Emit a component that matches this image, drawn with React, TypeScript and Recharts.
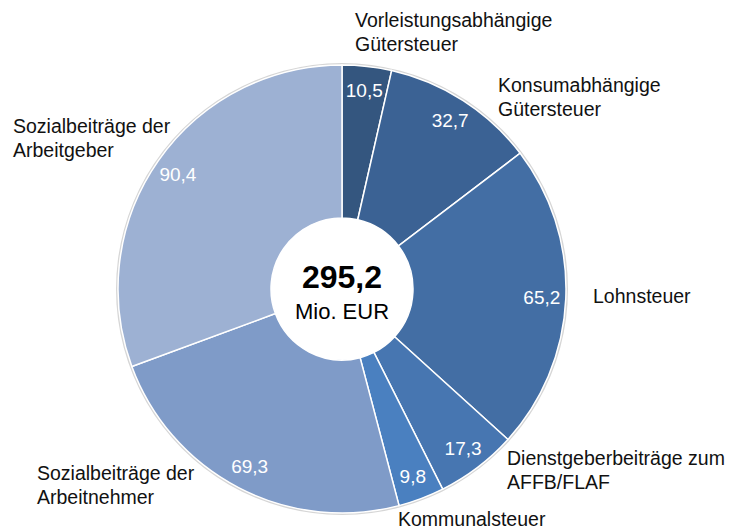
import { PieChart, Pie, Cell, Label } from 'recharts'

// Steueraufkommen nach Abgabenart (Mio. EUR)
const categories = [
  'Vorleistungsabhängige\nGütersteuer',
  'Konsumabhängige\nGütersteuer',
  'Lohnsteuer',
  'Dienstgeberbeiträge zum\nAFFB/FLAF',
  'Kommunalsteuer',
  'Sozialbeiträge der\nArbeitnehmer',
  'Sozialbeiträge der\nArbeitgeber',
]
const values = [10.5, 32.7, 65.2, 17.3, 9.8, 69.3, 90.4]
const colors = ['#34567f', '#3b6294', '#436ea4', '#4776b1', '#4a80c0', '#7f9bc8', '#9db1d3']
const totalLabel = '295,2'
const unitLabel = 'Mio. EUR'

const data = categories.map((name, i) => ({ name, value: values[i] }))
const total = values.reduce((a, b) => a + b, 0)

// where each outer text block starts, relative to the pie centre
const outerLayout = [
  { dx: 13, dy: -262 },
  { dx: 156, dy: -197 },
  { dx: 251, dy: 14 },
  { dx: 165, dy: 176 },
  { dx: 56, dy: 237 },
  { dx: -305, dy: 191 },
  { dx: -329, dy: -156 },
]

const FONT = '"Liberation Sans", Arial, Helvetica, sans-serif'
const RADIAN = Math.PI / 180

const fmt = (v: number) => v.toFixed(1).replace('.', ',')

const renderLabel = (props: any) => {
  const { cx, cy, midAngle, index, value, name } = props
  const r = 200
  const x = cx + r * Math.cos(-midAngle * RADIAN)
  const y = cy + r * Math.sin(-midAngle * RADIAN)
  const pos = outerLayout[index]
  const lines = String(name).split('\n')
  return (
    <g>
      <text x={x} y={y} fill="#fff" fontSize={19} fontFamily={FONT} textAnchor="middle" dominantBaseline="central">
        {fmt(value)}
      </text>
      <text x={cx + pos.dx} y={cy + pos.dy} fill="#111" fontSize={19.5} fontFamily={FONT} textAnchor="start">
        {lines.map((l, i) => (
          <tspan key={i} x={cx + pos.dx} dy={i === 0 ? 0 : 23.5}>
            {l}
          </tspan>
        ))}
      </text>
    </g>
  )
}

const renderCenter = (props: any) => {
  const vb = props.viewBox || {}
  const cx = vb.cx ?? 342
  const cy = vb.cy ?? 289
  return (
    <g>
      <text x={cx} y={cy - 1} textAnchor="middle" fontSize={32} fontWeight="bold" fontFamily={FONT} fill="#000">
        {totalLabel}
      </text>
      <text x={cx} y={cy + 30} textAnchor="middle" fontSize={22} fontFamily={FONT} fill="#000">
        {unitLabel}
      </text>
    </g>
  )
}

export default function App() {
  return (
    <div style={{ position: 'absolute', left: 0, top: 0, width: 732, height: 530, background: '#fff' }}>
      <PieChart width={732} height={530} margin={{ top: 0, right: 0, bottom: 0, left: 0 }}>
        <Pie
          data={[{ name: 'rand', value: total }]}
          dataKey="value"
          cx={342}
          cy={289}
          outerRadius={226}
          innerRadius={220}
          fill="#d6d6d6"
          stroke="none"
          isAnimationActive={false}
        />
        <Pie
          data={data}
          dataKey="value"
          cx={342}
          cy={289}
          outerRadius={224}
          innerRadius={71}
          startAngle={90}
          endAngle={-270}
          stroke="#fff"
          strokeWidth={1.5}
          labelLine={false}
          label={renderLabel}
          isAnimationActive={false}
        >
          {data.map((d, i) => (
            <Cell key={d.name} fill={colors[i]} />
          ))}
          <Label position="center" content={renderCenter} />
        </Pie>
      </PieChart>
    </div>
  )
}
